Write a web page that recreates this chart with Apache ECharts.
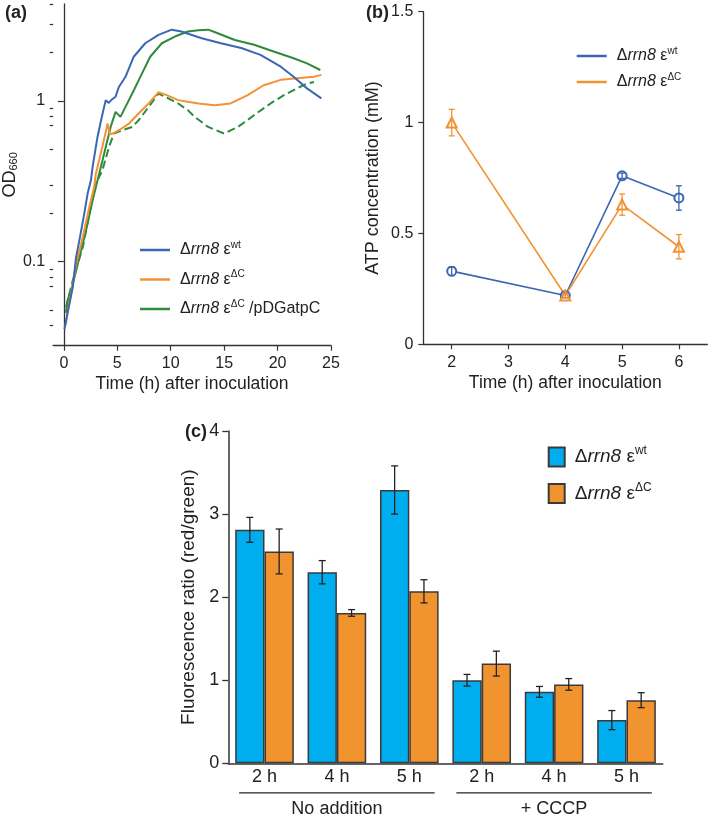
<!DOCTYPE html>
<html><head><meta charset="utf-8">
<script src="https://cdn.jsdelivr.net/npm/echarts@6/dist/echarts.min.js"></script>
<style>html,body{margin:0;padding:0;background:#fff}#c{width:709px;height:822px}</style>
</head><body><div id="c"></div>
<script>
// ---------- Panel (a): growth curves (OD660, log) ----------
const a_wt_t  = [0.06,0.37,0.83,1.14,1.45,1.91,2.22,2.53,2.69,3.15,3.6,3.92,4.2,4.5,4.84,5.15,5.77,6.54,7.62,8.86,10.1,10.25,11.0,12.9,14.7,16.6,18.4,20.3,21.5,22.75,24.1];
const a_wt_v  = [0.038,0.049,0.069,0.106,0.135,0.198,0.264,0.319,0.387,0.596,0.82,1.01,0.97,1.02,1.06,1.22,1.41,1.88,2.28,2.57,2.77,2.79,2.70,2.45,2.28,2.13,1.93,1.63,1.41,1.195,1.035];
const a_dC_t  = [0.15,0.68,1.14,1.76,2.38,2.84,3.0,3.6,4.1,4.3,4.56,5.15,6.1,7.0,7.94,8.86,9.63,10.7,11.6,12.6,14.1,15.6,17.2,18.7,20.3,21.8,23.4,24.1];
const a_dC_v  = [0.040,0.0625,0.096,0.141,0.218,0.29,0.352,0.516,0.722,0.62,0.626,0.656,0.722,0.834,0.963,1.13,1.085,1.01,0.986,0.963,0.94,0.963,1.085,1.25,1.35,1.38,1.41,1.45];
const a_dCp_t = [0.2,0.37,0.83,1.45,2.07,2.69,3.15,3.77,4.38,4.84,5.3,5.77,6.4,7.16,8.08,9.17,10.4,11.6,12.6,13.5,14.1,16.0,17.8,19.7,21.5,22.75,24.0];
const a_dCp_v = [0.048,0.058,0.072,0.106,0.155,0.24,0.319,0.469,0.688,0.854,0.794,0.917,1.11,1.41,1.88,2.28,2.51,2.70,2.75,2.77,2.68,2.39,2.23,2.02,1.84,1.71,1.555];
const a_vec_t = [0.2,0.83,1.76,2.38,3.0,3.6,4.23,4.69,5.46,6.4,7.0,7.94,8.86,9.47,10.7,11.6,12.25,13.5,15.0,16.3,17.8,19.35,20.6,21.8,22.75,23.4];
const a_vec_v = [0.052,0.076,0.122,0.198,0.305,0.369,0.516,0.626,0.656,0.688,0.757,0.917,1.11,1.06,0.963,0.875,0.794,0.688,0.626,0.688,0.814,0.963,1.085,1.195,1.28,1.31];
const a_xTicks = [0,5,10,15,20,25];
const a_yMajor = [0.1,1];
const a_yMinor = [0.04,0.05,0.07,0.08,0.09,0.2,0.3,0.5,0.7,0.8,0.9,2,3,4];

// ---------- Panel (b): ATP concentration ----------
const b_time   = [2,4,5,6];
const b_wt     = [0.33,0.22,0.76,0.66];
const b_wt_err = [0.02,0.01,0.012,0.055];
const b_dC     = [1.00,0.22,0.63,0.44];
const b_dC_err = [0.06,0.01,0.048,0.055];
const b_xTicks = [2,3,4,5,6];

// ---------- Panel (c): fluorescence ratio ----------
const c_cats   = ['2 h','4 h','5 h','2 h','4 h','5 h'];
const c_groups = ['No addition','+ CCCP'];
const c_wt     = [2.81,2.30,3.29,1.00,0.86,0.52];
const c_wt_err = [0.15,0.14,0.29,0.07,0.065,0.115];
const c_dC     = [2.55,1.81,2.07,1.20,0.95,0.76];
const c_dC_err = [0.27,0.04,0.14,0.15,0.07,0.09];

const FONT = 'Liberation Sans, Arial, sans-serif';
const BLUE = '#3b66b3', ORANGE = '#f39235', GREEN = '#2f8a3b';
const CBLUE = '#00aeef', CORANGE = '#f1942f';
const AX = '#333';

const zip = (t, v) => t.map((x, i) => [x, v[i]]);

function richLabel(sup, tail) {
  return '{g| }{n|Δ}{i|rrn8}{n| ε}{s|' + sup + '}' + (tail ? '{n| ' + tail + '}' : '');
}
const legendNames = {
  a_wt: richLabel('wt'), a_dC: richLabel('ΔC'), a_dCp: richLabel('ΔC', '/pDGatpC'),
  b_wt: richLabel('wt'), b_dC: richLabel('ΔC'),
  c_wt: richLabel('wt'), c_dC: richLabel('ΔC')
};
function richStyles(fs, lh) {
  return {
    g: {width: 5, fontSize: fs, lineHeight: lh},
    n: {fontSize: fs, color: '#222', fontFamily: FONT, lineHeight: lh},
    i: {fontSize: fs, color: '#222', fontFamily: FONT, fontStyle: 'italic', lineHeight: lh},
    s: {fontSize: Math.round(fs * 0.62), color: '#222', fontFamily: FONT, verticalAlign: 'top'}
  };
}

function errLineRender(color, cap, offsetFrac) {
  return function (params, api) {
    const x = api.value(0), lo = api.value(1), hi = api.value(2);
    let off = 0;
    if (offsetFrac) {
      const band = api.size([1, 0])[0];
      off = offsetFrac * band;
    }
    const p1 = api.coord([x, hi]), p2 = api.coord([x, lo]);
    const cx = p1[0] + off;
    const st = {stroke: color, lineWidth: 1.3};
    return {type: 'group', children: [
      {type: 'line', shape: {x1: cx, y1: p1[1], x2: cx, y2: p2[1]}, style: st},
      {type: 'line', shape: {x1: cx - cap, y1: p1[1], x2: cx + cap, y2: p1[1]}, style: st},
      {type: 'line', shape: {x1: cx - cap, y1: p2[1], x2: cx + cap, y2: p2[1]}, style: st}
    ]};
  };
}

const axLine = {lineStyle: {color: AX, width: 1.3}};
const axTickStyle = {color: AX, width: 1.2};
const labelStyle = (fs) => ({fontSize: fs, color: '#222', fontFamily: FONT});

const barW = 0.81 / 2;

const option = {
  backgroundColor: '#fff',
  animation: false,
  textStyle: {fontFamily: FONT},
  title: [
    {text: '(a)', left: 5, top: 4, padding: 0, textStyle: {fontSize: 18, fontWeight: 'bold', color: '#222', fontFamily: FONT}},
    {text: '(b)', left: 366, top: 4, padding: 0, textStyle: {fontSize: 18, fontWeight: 'bold', color: '#222', fontFamily: FONT}},
    {text: '(c)', left: 185, top: 423, padding: 0, textStyle: {fontSize: 18, fontWeight: 'bold', color: '#222', fontFamily: FONT}}
  ],
  grid: [
    {left: 50, top: 4, width: 281, height: 341.7},
    {left: 423.3, top: 11.7, width: 284, height: 332.6},
    {left: 228.3, top: 431, width: 434.4, height: 332.3}
  ],
  legend: [
    {data: ['a_wt', 'a_dC', 'a_dCp'], left: 140, top: 240, orient: 'vertical', icon: 'rect',
     itemWidth: 30, itemHeight: 2.5, itemGap: 11.5, selectedMode: false, padding: 0,
     itemStyle: {borderWidth: 0},
     formatter: n => legendNames[n], textStyle: {rich: richStyles(16, 20)}},
    {data: ['b_wt', 'b_dC'], left: 576.7, top: 46, orient: 'vertical', icon: 'rect',
     itemWidth: 30, itemHeight: 2.5, itemGap: 8, selectedMode: false, padding: 0,
     itemStyle: {borderWidth: 0},
     formatter: n => legendNames[n], textStyle: {rich: richStyles(16, 20)}},
    {data: ['c_wt', 'c_dC'], left: 547.7, top: 445, orient: 'vertical', icon: 'rect',
     itemWidth: 16, itemHeight: 19, itemGap: 14, selectedMode: false, padding: 0,
     formatter: n => legendNames[n], textStyle: {rich: richStyles(19, 24)}}
  ],
  xAxis: [
    {gridIndex: 0, type: 'value', min: -1, max: 25,
     axisLine: axLine, splitLine: {show: false},
     axisTick: {customValues: a_xTicks, length: 5, lineStyle: axTickStyle},
     axisLabel: Object.assign({customValues: a_xTicks, margin: 10}, labelStyle(16)),
     name: 'Time (h) after inoculation', nameLocation: 'middle', nameGap: 29,
     nameTextStyle: labelStyle(17.5)},
    {gridIndex: 1, type: 'value', min: 1.5, max: 6.5,
     axisLine: axLine, splitLine: {show: false},
     axisTick: {customValues: b_xTicks, length: 5, lineStyle: axTickStyle},
     axisLabel: Object.assign({customValues: b_xTicks, margin: 10}, labelStyle(16)),
     name: 'Time (h) after inoculation', nameLocation: 'middle', nameGap: 30,
     nameTextStyle: labelStyle(17.5)},
    {gridIndex: 2, type: 'category', data: c_cats,
     axisLine: {lineStyle: {color: AX, width: 1.5}},
     axisTick: {length: 6, lineStyle: {color: AX, width: 1.3}},
     axisLabel: Object.assign({margin: 5}, labelStyle(18))},
    {gridIndex: 2, type: 'category', data: c_groups, position: 'bottom', offset: 29,
     axisLine: {show: false}, axisTick: {show: false},
     axisLabel: Object.assign({margin: 8}, labelStyle(18))}
  ],
  yAxis: [
    {gridIndex: 0, type: 'log', logBase: 10, min: 0.03, max: 4, position: 'left',
     axisLine: {show: true, lineStyle: {color: AX, width: 1.3}}, splitLine: {show: false},
     axisTick: {show: true, customValues: a_yMajor, length: 6, lineStyle: axTickStyle},
     axisLabel: Object.assign({customValues: a_yMajor, margin: 8, formatter: v => String(v)}, labelStyle(16)),
     name: '{m|OD}{sb|660}', nameLocation: 'middle', nameGap: 23, nameRotate: 90,
     nameTextStyle: {rich: {m: {fontSize: 18, color: '#222', fontFamily: FONT}, sb: {fontSize: 11, color: '#222', fontFamily: FONT, verticalAlign: 'bottom'}}}},
    {gridIndex: 0, type: 'log', logBase: 10, min: 0.03, max: 4, position: 'left',
     axisLine: {show: false}, splitLine: {show: false},
     axisTick: {show: true, customValues: a_yMinor, length: 3.5, lineStyle: axTickStyle},
     axisLabel: {show: false}},
    {gridIndex: 1, type: 'value', min: 0, max: 1.5, interval: 0.5,
     axisLine: {show: true, lineStyle: {color: AX, width: 1.3}}, splitLine: {show: false},
     axisTick: {show: true, length: 5, lineStyle: axTickStyle},
     axisLabel: Object.assign({margin: 10}, labelStyle(16)),
     name: 'ATP concentration (mM)', nameLocation: 'middle', nameGap: 41,
     nameTextStyle: labelStyle(18)},
    {gridIndex: 2, type: 'value', min: 0, max: 4, interval: 1,
     axisLine: {show: true, lineStyle: {color: AX, width: 1.5}}, splitLine: {show: false},
     axisTick: {show: true, length: 6, lineStyle: {color: AX, width: 1.3}},
     axisLabel: Object.assign({margin: 9}, labelStyle(18)),
     name: 'Fluorescence ratio (red/green)', nameLocation: 'middle', nameGap: 29,
     nameTextStyle: labelStyle(19)}
  ],
  series: [
    // panel a
    {name: 'a_vec', type: 'line', xAxisIndex: 0, yAxisIndex: 0, data: zip(a_vec_t, a_vec_v),
     symbol: 'none', color: GREEN, lineStyle: {width: 2, type: [8, 4], color: GREEN}},
    {name: 'a_dCp', type: 'line', xAxisIndex: 0, yAxisIndex: 0, data: zip(a_dCp_t, a_dCp_v),
     symbol: 'none', color: GREEN, lineStyle: {width: 2, color: GREEN}},
    {name: 'a_dC', type: 'line', xAxisIndex: 0, yAxisIndex: 0, data: zip(a_dC_t, a_dC_v),
     symbol: 'none', color: ORANGE, lineStyle: {width: 2, color: ORANGE}},
    {name: 'a_wt', type: 'line', xAxisIndex: 0, yAxisIndex: 0, data: zip(a_wt_t, a_wt_v),
     symbol: 'none', color: BLUE, lineStyle: {width: 2, color: BLUE}},
    // panel b
    {name: 'b_wt', type: 'line', xAxisIndex: 1, yAxisIndex: 2, data: zip(b_time, b_wt),
     symbol: 'emptyCircle', symbolSize: 9, color: BLUE,
     itemStyle: {color: BLUE, borderWidth: 1.5}, lineStyle: {width: 1.6, color: BLUE}, z: 3},
    {name: 'b_dC', type: 'line', xAxisIndex: 1, yAxisIndex: 2, data: zip(b_time, b_dC),
     symbol: 'emptyTriangle', symbolSize: 10, color: ORANGE,
     itemStyle: {color: ORANGE, borderWidth: 1.3}, lineStyle: {width: 1.6, color: ORANGE}, z: 3},
    {name: 'b_wt_e', type: 'custom', xAxisIndex: 1, yAxisIndex: 2, z: 4,
     data: b_time.map((t, i) => [t, b_wt[i] - b_wt_err[i], b_wt[i] + b_wt_err[i]]),
     encode: {x: 0, y: [1, 2]}, renderItem: errLineRender(BLUE, 3, 0)},
    {name: 'b_dC_e', type: 'custom', xAxisIndex: 1, yAxisIndex: 2, z: 4,
     data: b_time.map((t, i) => [t, b_dC[i] - b_dC_err[i], b_dC[i] + b_dC_err[i]]),
     encode: {x: 0, y: [1, 2]}, renderItem: errLineRender(ORANGE, 3, 0)},
    // panel c
    {name: 'c_wt', type: 'bar', xAxisIndex: 2, yAxisIndex: 3, data: c_wt, color: CBLUE,
     barGap: '0%', barCategoryGap: '19%',
     itemStyle: {color: CBLUE, borderColor: '#3a3a3a', borderWidth: 1.5}},
    {name: 'c_dC', type: 'bar', xAxisIndex: 2, yAxisIndex: 3, data: c_dC, color: CORANGE,
     itemStyle: {color: CORANGE, borderColor: '#3a3a3a', borderWidth: 1.5}},
    {name: 'c_wt_e', type: 'custom', xAxisIndex: 2, yAxisIndex: 3, z: 5,
     data: c_wt.map((v, i) => [i, v - c_wt_err[i], v + c_wt_err[i]]),
     encode: {x: 0, y: [1, 2]}, renderItem: errLineRender('#222', 3.5, -barW / 2)},
    {name: 'c_dC_e', type: 'custom', xAxisIndex: 2, yAxisIndex: 3, z: 5,
     data: c_dC.map((v, i) => [i, v - c_dC_err[i], v + c_dC_err[i]]),
     encode: {x: 0, y: [1, 2]}, renderItem: errLineRender('#222', 3.5, barW / 2)}
  ]
};

const chart = echarts.init(document.getElementById('c'), null, {renderer: 'canvas'});
chart.setOption(option);

// group underlines below panel (c), positioned from the category axis scale
const groupSpans = [[0, 2], [3, 5]];
const finder = {xAxisIndex: 2, yAxisIndex: 3};
const p0 = chart.convertToPixel(finder, [0, 0]);
const p1 = chart.convertToPixel(finder, [1, 0]);
const band = p1[0] - p0[0];
chart.setOption({
  graphic: groupSpans.map(s => {
    const a = chart.convertToPixel(finder, [s[0], 0]);
    const b = chart.convertToPixel(finder, [s[1], 0]);
    const y = a[1] + 29.5;
    return {type: 'line', shape: {x1: a[0] - 0.35 * band, y1: y, x2: b[0] + 0.35 * band, y2: y},
            style: {stroke: '#222', lineWidth: 1.3}};
  })
});
</script></body></html>
